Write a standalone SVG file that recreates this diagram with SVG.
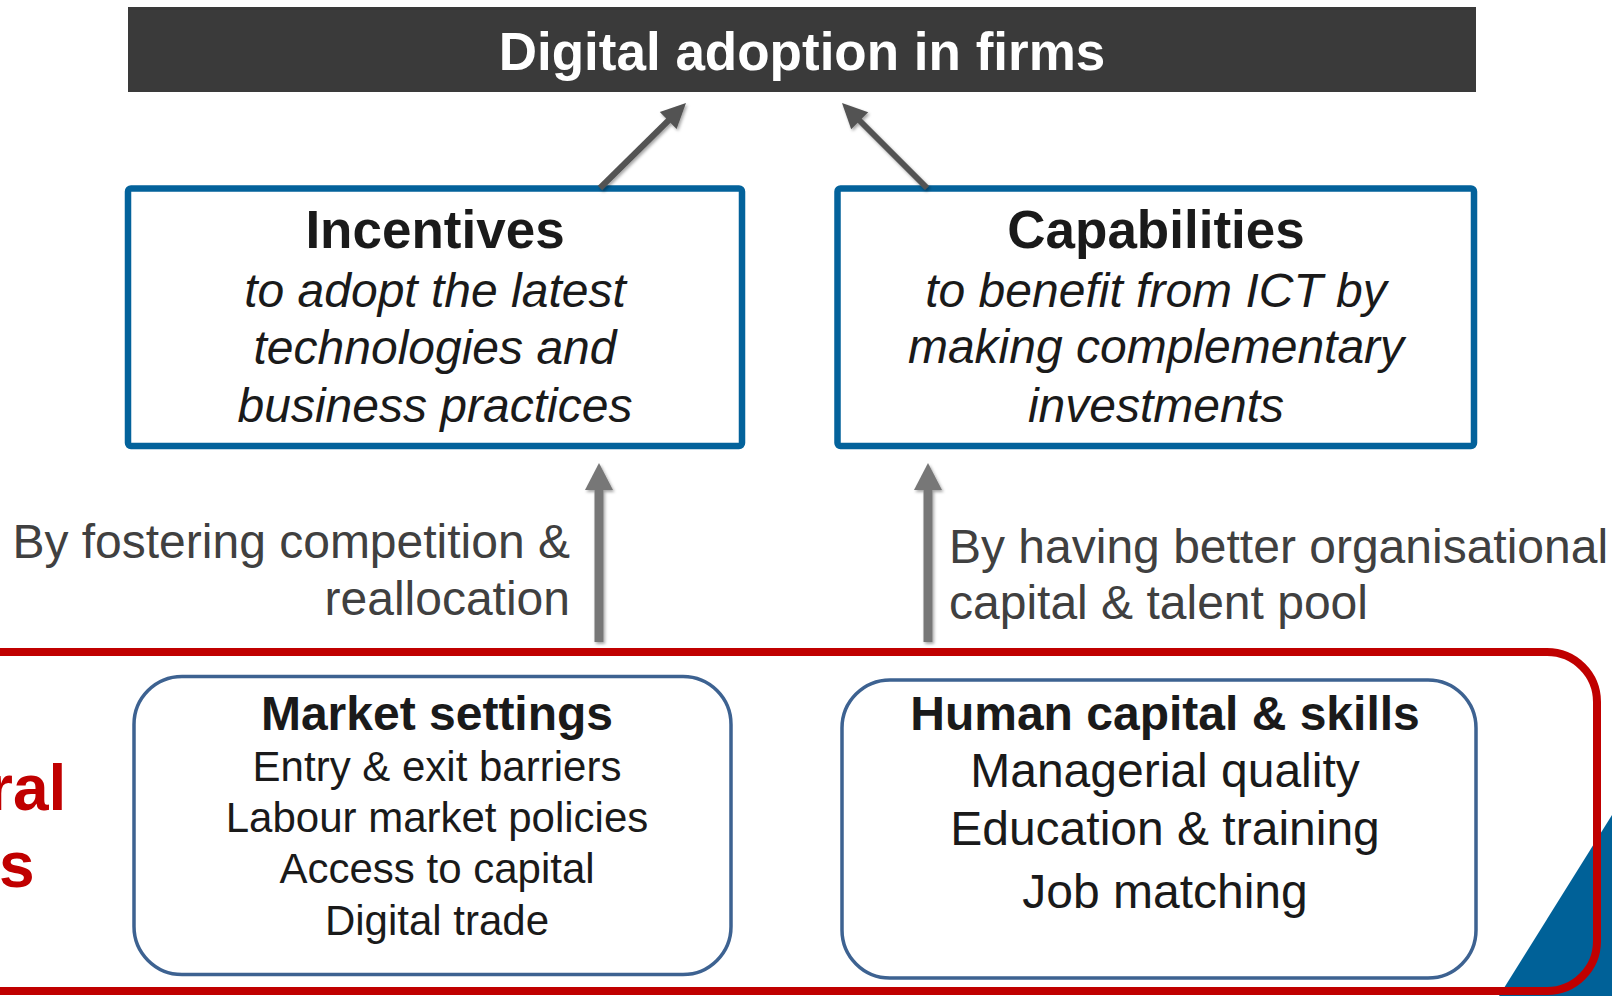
<svg xmlns="http://www.w3.org/2000/svg" width="1612" height="996" viewBox="0 0 1612 996">
<defs>
<filter id="sh" x="-20%" y="-20%" width="140%" height="140%">
<feDropShadow dx="1.5" dy="2" stdDeviation="1.5" flood-color="#000" flood-opacity="0.35"/>
</filter>
<style>
text{font-family:"Liberation Sans",Arial,sans-serif;}
.t{font-size:53px;font-weight:bold;text-anchor:middle;}
.it{font-size:48px;font-style:italic;fill:#1a1a1a;text-anchor:middle;}
.bh{font-size:48px;font-weight:bold;fill:#1a1a1a;text-anchor:middle;}
.ml{font-size:42px;fill:#1a1a1a;text-anchor:middle;}
.hl{font-size:48px;fill:#1a1a1a;text-anchor:middle;}
.lbl{font-size:48px;fill:#404040;}
.red{font-size:64px;font-weight:bold;fill:#c00000;}
.bluebox{fill:#fff;stroke:#03629b;stroke-width:6.5;}
.rbox{fill:#fff;stroke:#3d6291;stroke-width:3.5;}
.top{stroke:#535353;stroke-width:6;fill:none;}
.toph{fill:#535353;stroke:none;}
.up{stroke:#777;stroke-width:9;fill:none;}
.uph{fill:#777;stroke:none;}
</style>
</defs>
<rect width="1612" height="996" fill="#fff"/>
<polygon points="1612,815 1612,996 1499,996" fill="#006198"/>
<rect x="-60" y="652" width="1657" height="339" rx="50" ry="50" fill="none" stroke="#c00000" stroke-width="8"/>
<g id="title">
<rect x="128" y="7" width="1348" height="85" fill="#3a3a3a"/>
<text class="t" x="802" y="70" fill="#fff">Digital adoption in firms</text>
</g>
<g id="incentives">
<rect class="bluebox" x="128" y="188.5" width="614" height="257.5" rx="3"/>
<text class="t" x="435" y="248" fill="#1a1a1a">Incentives</text>
<text class="it" x="435" y="307">to adopt the latest</text>
<text class="it" x="435" y="364">technologies and</text>
<text class="it" x="435" y="422">business practices</text>
</g>
<g id="capabilities">
<rect class="bluebox" x="837.5" y="188.5" width="636.5" height="257.5" rx="3"/>
<text class="t" x="1156" y="248" fill="#1a1a1a">Capabilities</text>
<text class="it" x="1156" y="307">to benefit from ICT by</text>
<text class="it" x="1156" y="363">making complementary</text>
<text class="it" x="1156" y="422">investments</text>
</g>
<g id="structural">
<text class="red" x="-12" y="810">ral</text>
<text class="red" x="-1" y="887">s</text>
</g>
<g id="market">
<rect class="rbox" x="134" y="676.5" width="597" height="298" rx="48" ry="48"/>
<text class="bh" x="437" y="730">Market settings</text>
<text class="ml" x="437" y="781">Entry &amp; exit barriers</text>
<text class="ml" x="437" y="832">Labour market policies</text>
<text class="ml" x="437" y="883">Access to capital</text>
<text class="ml" x="437" y="935">Digital trade</text>
</g>
<g id="human">
<rect class="rbox" x="842" y="680" width="634" height="298" rx="48" ry="48"/>
<text class="bh" x="1165" y="730">Human capital &amp; skills</text>
<text class="hl" x="1165" y="787">Managerial quality</text>
<text class="hl" x="1165" y="845">Education &amp; training</text>
<text class="hl" x="1165" y="908">Job matching</text>
</g>
<g id="labels">
<text class="lbl" x="570" y="558" text-anchor="end">By fostering competition &amp;</text>
<text class="lbl" x="570" y="615" text-anchor="end">reallocation</text>
<text class="lbl" x="949" y="563">By having better organisational</text>
<text class="lbl" x="949" y="619">capital &amp; talent pool</text>
</g>
<g id="connectors" filter="url(#sh)">
<line class="top" x1="600" y1="188" x2="670" y2="119"/>
<polygon class="toph" points="686,103 676.6,129.1 659.8,112.1"/>
<line class="top" x1="927" y1="188" x2="858" y2="119"/>
<polygon class="toph" points="842,103 868.2,112.2 851.2,129.2"/>
<line class="up" x1="599" y1="642" x2="599" y2="488"/>
<polygon class="uph" points="599,463 613,490 585,490"/>
<line class="up" x1="928" y1="642" x2="928" y2="488"/>
<polygon class="uph" points="928,463 942,490 914,490"/>
</g>
</svg>
